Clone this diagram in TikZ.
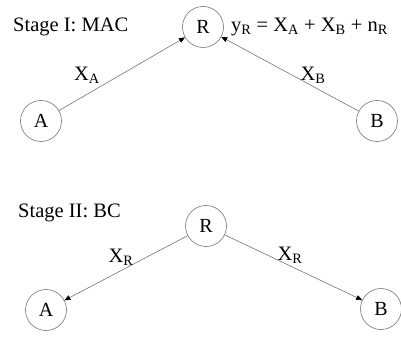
\documentclass[tikz,border=0pt]{standalone}
\usepackage{fontspec}
\setmainfont{Liberation Serif}
\usetikzlibrary{arrows.meta}
\begin{document}
\begin{tikzpicture}[x=1pt,y=-1pt,
  nd/.style={circle,draw=black!55,line width=0.6pt,minimum size=41pt,inner sep=0pt,font=\fontsize{20}{23}\selectfont},
  lbl/.style={font=\fontsize{20.5}{24}\selectfont,inner sep=0pt},
  arr/.style={draw=black!55,line width=0.6pt,-{Triangle[length=6pt,width=5pt,fill=black,color=black]}}]
\useasboundingbox (0,0) rectangle (401,339);
% Stage I
\node[nd] (R1) at (203,27) {R};
\node[nd] (A1) at (41,121) {A};
\node[nd] (B1) at (377,121) {B};
\node[lbl,anchor=west] (s1) at (13,27) {Stage I: MAC};
\node[lbl,anchor=west] (eq) at (231,27) {y\textsubscript{R} = X\textsubscript{A} + X\textsubscript{B} + n\textsubscript{R}};
\draw[arr] (A1) -- (R1);
\draw[arr] (B1) -- (R1);
\node[lbl] (xa) at (87,75) {X\textsubscript{A}};
\node[lbl] (xb) at (313,75) {X\textsubscript{B}};
% Stage II
\node[nd] (R2) at (206,226) {R};
\node[nd] (A2) at (46,310) {A};
\node[nd] (B2) at (381,309) {B};
\node[lbl,anchor=west] (s2) at (18,213) {Stage II: BC};
\draw[arr] (R2) -- (A2);
\draw[arr] (R2) -- (B2);
\node[lbl] (xr1) at (121,257) {X\textsubscript{R}};
\node[lbl] (xr2) at (290,255) {X\textsubscript{R}};
\end{tikzpicture}
\end{document}
